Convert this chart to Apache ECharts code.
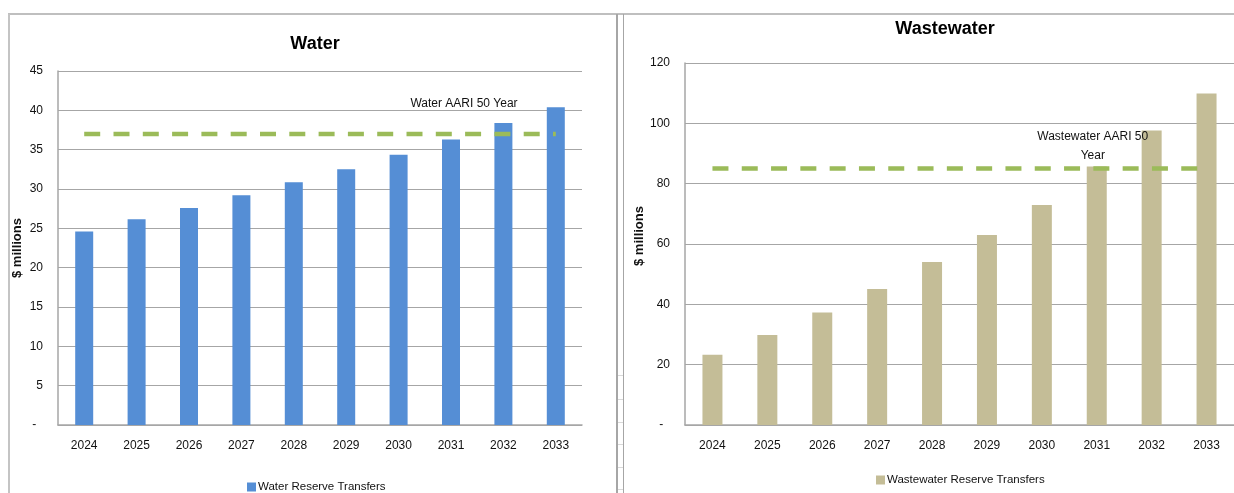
<!DOCTYPE html>
<html>
<head>
<meta charset="utf-8">
<title>Reserve Transfers</title>
<script src="https://cdn.jsdelivr.net/npm/echarts@6/dist/echarts.min.js"></script>
<style>
  html, body { margin: 0; padding: 0; background: #ffffff; }
  #chart { width: 1234px; height: 493px; }
</style>
</head>
<body>
<div id="chart"></div>
<script>
// Fiscal years shown on both panels
const years = ['2024', '2025', '2026', '2027', '2028', '2029', '2030', '2031', '2032', '2033'];

// Water reserve transfers ($ millions)
const waterTransfers = [24.6, 26.15, 27.6, 29.2, 30.85, 32.5, 34.35, 36.3, 38.4, 40.4];
// Water AARI 50 year level
const waterAari = [37, 37, 37, 37, 37, 37, 37, 37, 37, 37];

// Wastewater reserve transfers ($ millions)
const wastewaterTransfers = [23.3, 29.8, 37.3, 45.1, 54.0, 63.0, 72.9, 85.7, 97.6, 109.9];
// Wastewater AARI 50 year level
const wastewaterAari = [85, 85, 85, 85, 85, 85, 85, 85, 85, 85];

// Axis ranges
const waterAxis = { min: 0, max: 45, interval: 5 };
const wastewaterAxis = { min: 0, max: 120, interval: 20 };

const FONT = "'Liberation Sans', Arial, sans-serif";
const GRID_GREY = '#a6a6a6';
const AARI_GREEN = '#9bbb59';

const chart = echarts.init(document.getElementById('chart'), null, { renderer: 'canvas' });

function yLabel(v) { return v === 0 ? '-  ' : String(v); }

// Label attached to one point of an AARI line
function aariData(values, labelIndex, text, offset) {
  return values.map((v, i) => {
    if (i !== labelIndex) return v;
    return {
      value: v,
      label: {
        show: true,
        position: 'inside',
        offset: offset,
        formatter: text,
        color: '#111',
        fontFamily: FONT,
        fontSize: 12,
        lineHeight: 19,
        align: 'center'
      }
    };
  });
}

const option = {
  animation: false,
  backgroundColor: '#ffffff',
  textStyle: { fontFamily: FONT },
  title: [
    { text: 'Water', left: 310, top: 30, textAlign: 'center',
      textStyle: { fontFamily: FONT, fontSize: 18, fontWeight: 'bold', color: '#000' } },
    { text: 'Wastewater', left: 940, top: 15, textAlign: 'center',
      textStyle: { fontFamily: FONT, fontSize: 18, fontWeight: 'bold', color: '#000' } }
  ],
  legend: [
    { data: ['Water Reserve Transfers'], left: 242, top: 476, itemWidth: 9, itemHeight: 9,
      icon: 'rect', textStyle: { fontFamily: FONT, fontSize: 11.5, color: '#111', padding: [0, 0, 0, -3] } },
    { data: ['Wastewater Reserve Transfers'], left: 871, top: 469, itemWidth: 9, itemHeight: 9,
      icon: 'rect', textStyle: { fontFamily: FONT, fontSize: 11.5, color: '#111', padding: [0, 0, 0, -3] } }
  ],
  grid: [
    { left: 58, right: 652, top: 71, bottom: 68 },
    { left: 685, right: -7, top: 63, bottom: 68 }
  ],
  xAxis: [0, 1].map(i => ({
    type: 'category',
    gridIndex: i,
    data: years,
    axisTick: { show: false },
    axisLine: { lineStyle: { color: GRID_GREY, width: 1.5 } },
    axisLabel: { color: '#111', fontFamily: FONT, fontSize: 12, margin: 15 }
  })),
  yAxis: [
    Object.assign({
      type: 'value', gridIndex: 0,
      name: '$ millions', nameLocation: 'middle', nameGap: 34, nameRotate: 90,
      nameTextStyle: { fontFamily: FONT, fontSize: 13, fontWeight: 'bold', color: '#111' },
      axisLine: { show: true, lineStyle: { color: GRID_GREY, width: 1.5 } },
      axisTick: { show: false },
      axisLabel: { color: '#111', fontFamily: FONT, fontSize: 12, margin: 15, formatter: yLabel },
      splitLine: { lineStyle: { color: GRID_GREY, width: 1.2 } }
    }, waterAxis),
    Object.assign({
      type: 'value', gridIndex: 1,
      name: '$ millions', nameLocation: 'middle', nameGap: 27, nameRotate: 90,
      nameTextStyle: { fontFamily: FONT, fontSize: 13, fontWeight: 'bold', color: '#111', padding: [0, 0, 0, 16] },
      axisLine: { show: true, lineStyle: { color: GRID_GREY, width: 1.5 } },
      axisTick: { show: false },
      axisLabel: { color: '#111', fontFamily: FONT, fontSize: 12, margin: 15, formatter: yLabel },
      splitLine: { lineStyle: { color: GRID_GREY, width: 1.2 } }
    }, wastewaterAxis)
  ],
  series: [
    { name: 'Water Reserve Transfers', type: 'bar', xAxisIndex: 0, yAxisIndex: 0,
      data: waterTransfers, barWidth: 18, itemStyle: { color: '#558ed5' } },
    { name: 'Water AARI 50 Year', type: 'line', xAxisIndex: 0, yAxisIndex: 0,
      data: aariData(waterAari, 7, 'Water AARI 50 Year', [13, -30]),
      symbol: 'circle', symbolSize: 0, showSymbol: true, silent: true, z: 3,
      lineStyle: { color: AARI_GREEN, width: 4.5, type: [16, 13.3], cap: 'butt' } },
    { name: 'Wastewater Reserve Transfers', type: 'bar', xAxisIndex: 1, yAxisIndex: 1,
      data: wastewaterTransfers, barWidth: 20, itemStyle: { color: '#c4bd97' } },
    { name: 'Wastewater AARI 50 Year', type: 'line', xAxisIndex: 1, yAxisIndex: 1,
      data: aariData(wastewaterAari, 7, 'Wastewater AARI 50\nYear', [-4, -22]),
      symbol: 'circle', symbolSize: 0, showSymbol: true, silent: true, z: 3,
      lineStyle: { color: AARI_GREEN, width: 4.5, type: [16, 13.3], cap: 'butt' } }
  ],
  graphic: [
    // panel frames
    { type: 'line', shape: { x1: 8, y1: 14, x2: 1234, y2: 14 }, style: { stroke: '#bfbfbf', lineWidth: 2 } },
    { type: 'line', shape: { x1: 9, y1: 14, x2: 9, y2: 493 }, style: { stroke: '#c4c4c4', lineWidth: 2 } },
    { type: 'line', shape: { x1: 617, y1: 14, x2: 617, y2: 493 }, style: { stroke: '#a6a6a6', lineWidth: 2 } },
    { type: 'line', shape: { x1: 623.5, y1: 14, x2: 623.5, y2: 493 }, style: { stroke: '#a6a6a6', lineWidth: 1 } },
    // sheet cell rules between the panels
    ...[375, 399, 422, 444, 467, 489].map(y => ({
      type: 'line', shape: { x1: 618, y1: y + 0.5, x2: 623, y2: y + 0.5 }, style: { stroke: '#d9d9d9', lineWidth: 1 }
    }))
  ]
};

chart.setOption(option);
</script>
</body>
</html>
